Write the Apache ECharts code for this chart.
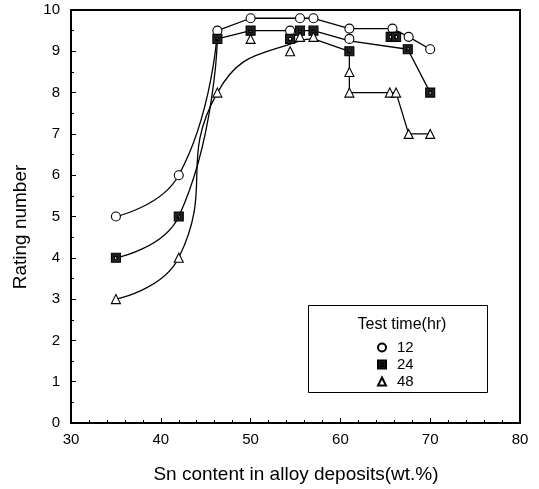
<!DOCTYPE html>
<html>
<head>
<meta charset="utf-8">
<title>Rating number vs Sn content</title>
<script src="https://cdn.jsdelivr.net/npm/echarts@6.0.0/dist/echarts.min.js"></script>
<style>
  html, body { margin: 0; padding: 0; background: #fff; }
  #main { width: 539px; height: 489px; }
</style>
</head>
<body>
<div id="main"></div>
<script>
// 测试时间（hr）
var testTimes = ['12', '24', '48'];

// 12 hr 的测点
var sn12 = [35, 42, 46.3, 50, 54.4, 55.5, 57, 61, 61, 65.8, 67.6, 70];
var rate12 = [5, 6, 9.5, 9.8, 9.5, 9.8, 9.8, 9.55, 9.3, 9.55, 9.35, 9.05];
// 12 hr 的连线：前段为曲线，后段为折线
var curve12X = [35, 42, 46.3];
var curve12Y = [5, 6, 9.5];
var poly12X = [46.3, 50, 55.5, 57, 61, 65.8, 67.6, 70];
var poly12Y = [9.5, 9.8, 9.8, 9.8, 9.55, 9.55, 9.35, 9.05];

// 24 hr
var sn24 = [35, 42, 46.3, 50, 54.4, 55.5, 57, 61, 65.6, 66.2, 67.5, 70];
var rate24 = [4, 5, 9.3, 9.5, 9.3, 9.5, 9.5, 9.0, 9.35, 9.35, 9.05, 8.0];
var curve24X = [35, 42, 46.3];
var curve24Y = [4, 5, 9.3];
var poly24X = [46.3, 50, 57, 61, 67.5, 70];
var poly24Y = [9.3, 9.5, 9.5, 9.25, 9.05, 8.0];

// 48 hr
var sn48 = [35, 42, 46.3, 50, 54.4, 55.5, 57, 61, 61, 65.5, 66.2, 67.6, 70];
var rate48 = [3, 4, 8, 9.3, 9.0, 9.35, 9.35, 8.5, 8.0, 8.0, 8.0, 7.0, 7.0];
var curve48X = [35, 42, 46.3, 55.5, 57];
var curve48Y = [3, 4, 8, 9.25, 9.3];
var poly48X = [57, 61, 61, 66.2, 67.6, 70];
var poly48Y = [9.3, 9.0, 8.0, 8.0, 7.0, 7.0];

// 坐标轴刻度
var xTicks = [30, 40, 50, 60, 70, 80];
var yTicks = [0, 1, 2, 3, 4, 5, 6, 7, 8, 9, 10];

function zip(xs, ys) {
  var out = [];
  for (var i = 0; i < xs.length; i++) out.push([xs[i], ys[i]]);
  return out;
}

var FONT = '"Liberation Sans", Arial, sans-serif';
// 带白点的深色方块
var squareIcon = 'path://M0,0L10,0L10,10L0,10Z M3.4,3.4L3.4,6.6L6.6,6.6L6.6,3.4Z';

function lineSeries(xs, ys, smooth) {
  return {
    type: 'line',
    data: zip(xs, ys),
    smooth: smooth ? 0.5 : false,
    showSymbol: false,
    silent: true,
    z: 2,
    lineStyle: { color: '#000', width: 1.3 }
  };
}

function markSeries(name, xs, ys, symbol, fill) {
  return {
    name: name,
    type: 'scatter',
    data: zip(xs, ys),
    symbol: symbol,
    symbolSize: 9,
    z: 5,
    itemStyle: { color: fill, borderColor: '#000', borderWidth: 1.1, opacity: 1 }
  };
}

var myChart = echarts.init(document.getElementById('main'));

var option = {
  animation: false,
  backgroundColor: '#fff',
  textStyle: { fontFamily: FONT },
  grid: {
    left: 71, right: 19, top: 10, bottom: 66,
    show: true, borderColor: '#000', borderWidth: 2
  },
  xAxis: {
    type: 'value',
    min: xTicks[0], max: xTicks[xTicks.length - 1], interval: 10,
    axisLine: { lineStyle: { color: '#000', width: 2 } },
    axisTick: { inside: true, length: 5, lineStyle: { color: '#000' } },
    minorTick: { show: true, splitNumber: 5, length: 3, lineStyle: { color: '#000' } },
    splitLine: { show: false },
    axisLabel: { color: '#000', fontSize: 15, margin: 9, fontFamily: FONT }
  },
  yAxis: {
    type: 'value',
    min: yTicks[0], max: yTicks[yTicks.length - 1], interval: 1,
    axisLine: { show: true, lineStyle: { color: '#000', width: 2 } },
    axisTick: { show: true, inside: true, length: 5, lineStyle: { color: '#000' } },
    minorTick: { show: true, splitNumber: 2, length: 3, lineStyle: { color: '#000' } },
    splitLine: { show: false },
    axisLabel: { color: '#000', fontSize: 15, margin: 11, fontFamily: FONT }
  },
  legend: {
    data: testTimes,
    orient: 'vertical',
    left: 372, top: 335,
    itemWidth: 8, itemHeight: 8, itemGap: 2,
    textStyle: { color: '#000', fontSize: 15, fontFamily: FONT, padding: [0, 0, 0, 6] }
  },
  graphic: [
    {
      type: 'rect', z: 1,
      shape: { x: 308.5, y: 305.5, width: 179, height: 87 },
      style: { fill: 'none', stroke: '#000', lineWidth: 1 }
    },
    {
      type: 'text', z: 6, x: 402, y: 325,
      style: { text: 'Test time(hr)', fill: '#000', font: '16px ' + FONT, textAlign: 'center', textVerticalAlign: 'middle' }
    },
    {
      type: 'text', x: 296, y: 475,
      style: { text: 'Sn content in alloy deposits(wt.%)', fill: '#000', font: '19px ' + FONT, textAlign: 'center', textVerticalAlign: 'middle' }
    },
    {
      type: 'text', x: 21, y: 227, rotation: Math.PI / 2,
      style: { text: 'Rating number', fill: '#000', font: '19px ' + FONT, textAlign: 'center', textVerticalAlign: 'middle' }
    }
  ],
  series: [
    lineSeries(curve12X, curve12Y, true),
    lineSeries(poly12X, poly12Y, false),
    lineSeries(curve24X, curve24Y, true),
    lineSeries(poly24X, poly24Y, false),
    lineSeries(curve48X, curve48Y, true),
    lineSeries(poly48X, poly48Y, false),
    markSeries(testTimes[0], sn12, rate12, 'circle', '#fff'),
    markSeries(testTimes[1], sn24, rate24, squareIcon, '#222'),
    markSeries(testTimes[2], sn48, rate48, 'triangle', '#fff')
  ]
};

myChart.setOption(option);
</script>
</body>
</html>
